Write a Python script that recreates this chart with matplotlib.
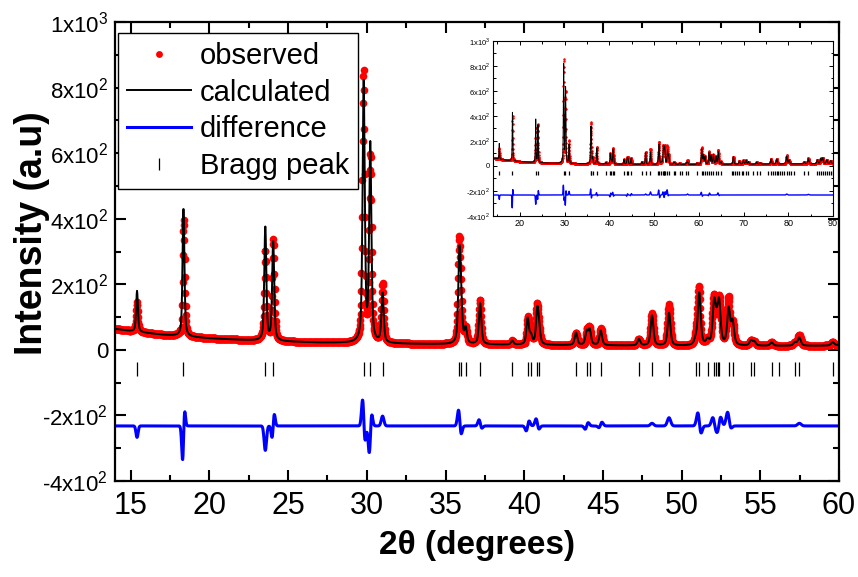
import numpy as np
import matplotlib
matplotlib.use("Agg")
import matplotlib.pyplot as plt
from matplotlib.ticker import MultipleLocator, FixedLocator, FixedFormatter

plt.rcParams['font.family'] = ['Liberation Sans', 'DejaVu Sans']
plt.rcParams['mathtext.fontset'] = 'custom'
plt.rcParams['mathtext.rm'] = 'Liberation Sans'
plt.rcParams['axes.unicode_minus'] = False

# calculated peaks (2theta, height above background)
peak_pos = [15.40, 18.35, 23.55, 24.05, 29.80, 30.22, 31.00, 35.88, 35.98, 36.28,
            37.20, 39.24, 40.22, 40.43, 40.83, 40.94, 43.29, 43.97, 44.16, 44.86,
            47.29, 48.12, 49.20, 50.89, 51.12, 51.65, 52.06, 52.16, 52.29, 52.39,
            52.99, 53.24, 54.41, 54.62, 55.72, 57.20, 57.48, 59.60, 60.65, 61.02,
            61.40, 62.30, 62.73, 63.26, 63.85, 64.37, 64.97, 67.73, 69.07, 69.97,
            70.56, 71.08, 72.95, 73.70, 76.16, 77.42, 79.66, 80.18, 83.60, 84.50,
            86.50, 87.27, 87.70, 88.60, 89.50]
peak_height = [125, 395, 350, 305, 790, 600, 150, 250, 110, 45,
               125, 12, 80, 25, 100, 40, 38, 40, 45, 45,
               20, 92, 100, 15, 160, 15, 110, 40, 40, 110,
               110, 70, 15, 12, 10, 10, 25, 10, 120, 70,
               60, 90, 70, 75, 60, 100, 20, 60, 25, 30,
               30, 20, 15, 10, 40, 40, 60, 30, 15, 40,
               30, 40, 45, 30, 25]

# smooth background
bg_pos = [14, 15, 17, 20, 23, 27, 33, 40, 50, 60, 70, 80, 90]
bg_val = [64, 57, 46, 35, 28, 22, 18, 15, 12, 12, 14, 16, 18]

# obs - calc misfit at selected reflections (centre, asymmetric part)
misfit_pos = [15.40, 18.35, 23.55, 24.05, 29.80, 30.22, 31.00, 35.90, 37.20, 40.22,
              40.83, 43.97, 44.86, 48.12, 49.20, 51.12, 52.06, 52.39, 52.99, 57.48,
              60.65, 62.30, 64.37, 79.66, 84.50]
misfit_center = [-35, -50, -75, 0, 30, -40, 30, 20, 10, 0,
                 10, 0, 5, 8, 25, 15, 15, 10, 30, 8,
                 10, 8, 10, 8, 5]
misfit_asym = [0, 70, 0, 35, -60, 55, 0, -35, -12, 15,
               -15, 10, 8, 0, 0, -30, -15, 20, -20, 0,
               -15, 10, -10, 0, 0]
diff_offset = -232

# Bragg reflection markers
bragg_pos = [15.38, 18.34, 23.53, 24.02, 29.82, 30.20, 31.00, 35.87, 35.98, 36.28,
             37.20, 39.24, 40.22, 40.43, 40.83, 40.94, 43.29, 43.97, 44.16, 44.86,
             47.29, 48.12, 49.20, 50.89, 51.12, 51.65, 52.06, 52.16, 52.29, 52.39,
             52.99, 53.24, 54.41, 54.62, 55.72, 56.17, 57.20, 57.48, 59.60, 60.65,
             61.02, 61.40, 61.76, 62.30, 62.73, 63.26, 63.85, 64.37, 64.97, 67.36,
             67.73, 68.10, 68.60, 69.07, 69.60, 69.97, 70.56, 71.08, 72.20, 72.95,
             73.70, 75.56, 76.16, 76.53, 77.05, 77.42, 77.80, 78.17, 78.54, 79.06,
             79.66, 80.18, 80.63, 81.38, 83.60, 84.50, 86.50, 86.90, 87.27, 87.70,
             88.20, 88.60, 89.00, 89.50, 89.95]
bragg_level = -57

y_ticks = [-400, -200, 0, 200, 400, 600, 800, 1000]
y_labels = ['-4x10$^{2}$', '-2x10$^{2}$', '0', '2x10$^{2}$', '4x10$^{2}$',
            '6x10$^{2}$', '8x10$^{2}$', '1x10$^{3}$']


def fwhm(p):
    return 0.13 + 0.0022 * (p - 14)


def pvoigt(x, x0, w, eta=0.55):
    u = ((x - x0) / w) ** 2
    return eta / (1 + 4 * u) + (1 - eta) * np.exp(-4 * np.log(2) * u)


tt = np.arange(14.0, 90.001, 0.02)
calc = np.interp(tt, bg_pos, bg_val)
for p, h in zip(peak_pos, peak_height):
    calc = calc + h * pvoigt(tt, p, fwhm(p))

resid = np.zeros_like(tt)
for p, m, d in zip(misfit_pos, misfit_center, misfit_asym):
    t = (tt - p) / (0.5 * fwhm(p))
    resid += m * np.exp(-t ** 2 / 2) + d * t * np.exp(0.5 - t ** 2 / 2)

obs = calc + resid
diff = diff_offset + resid


def draw(ax, ms, lw, dlw, bms):
    ax.plot(tt, obs, 'o', color='red', ms=ms, mec='none', label='observed')
    ax.plot(tt, calc, '-', color='black', lw=lw, label='calculated')
    ax.plot(tt, diff, '-', color='blue', lw=dlw, label='difference')
    ax.plot(bragg_pos, [bragg_level] * len(bragg_pos), '|', color='black',
            ms=bms, mew=0.9, label='Bragg peak')
    ax.set_ylim(-400, 1000)
    ax.yaxis.set_major_locator(FixedLocator(y_ticks))
    ax.yaxis.set_major_formatter(FixedFormatter(y_labels))
    ax.yaxis.set_minor_locator(MultipleLocator(100))


fig = plt.figure(figsize=(8.58, 5.77), dpi=100)
ax = fig.add_axes([115 / 858, 96 / 577, 724 / 858, 459 / 577])
draw(ax, 5.5, 1.4, 2.2, 10)
ax.set_xlim(14, 60)
ax.xaxis.set_major_locator(MultipleLocator(5))
ax.xaxis.set_minor_locator(MultipleLocator(2.5))
for s in ax.spines.values():
    s.set_linewidth(1.6)
ax.tick_params(which='both', direction='in', top=True, right=True, width=1.5)
ax.tick_params(which='major', length=8)
ax.tick_params(which='minor', length=4.5)
ax.tick_params(axis='x', labelsize=22, pad=7)
ax.tick_params(axis='y', labelsize=16, pad=5)
ax.set_xlabel('2θ (degrees)', fontsize=24, fontweight='bold', labelpad=7)
ax.set_ylabel('Intensity (a.u)', fontsize=27, fontweight='bold')
ax.yaxis.set_label_coords(-0.09, 0.54)

leg = ax.legend(loc='upper left', bbox_to_anchor=(0.004, 0.976), borderaxespad=0,
                fontsize=21, numpoints=1, handlelength=2.2, handletextpad=0.3,
                labelspacing=0.3, borderpad=0.3, fancybox=False, framealpha=1,
                edgecolor='black', markerscale=0.9)
leg.get_frame().set_linewidth(1.0)

ins = fig.add_axes([493 / 858, 361 / 577, 340 / 858, 175 / 577])
draw(ins, 1.8, 0.7, 1.0, 3.5)
ins.set_xlim(14, 90)
ins.xaxis.set_major_locator(MultipleLocator(10))
ins.xaxis.set_minor_locator(MultipleLocator(5))
for s in ins.spines.values():
    s.set_linewidth(0.8)
ins.tick_params(which='both', direction='in', top=True, right=True, width=0.7)
ins.tick_params(which='major', length=3)
ins.tick_params(which='minor', length=1.8)
ins.tick_params(axis='x', labelsize=6.5, pad=2)
ins.tick_params(axis='y', labelsize=5.5, pad=2)

fig.savefig('out.png', dpi=100)
